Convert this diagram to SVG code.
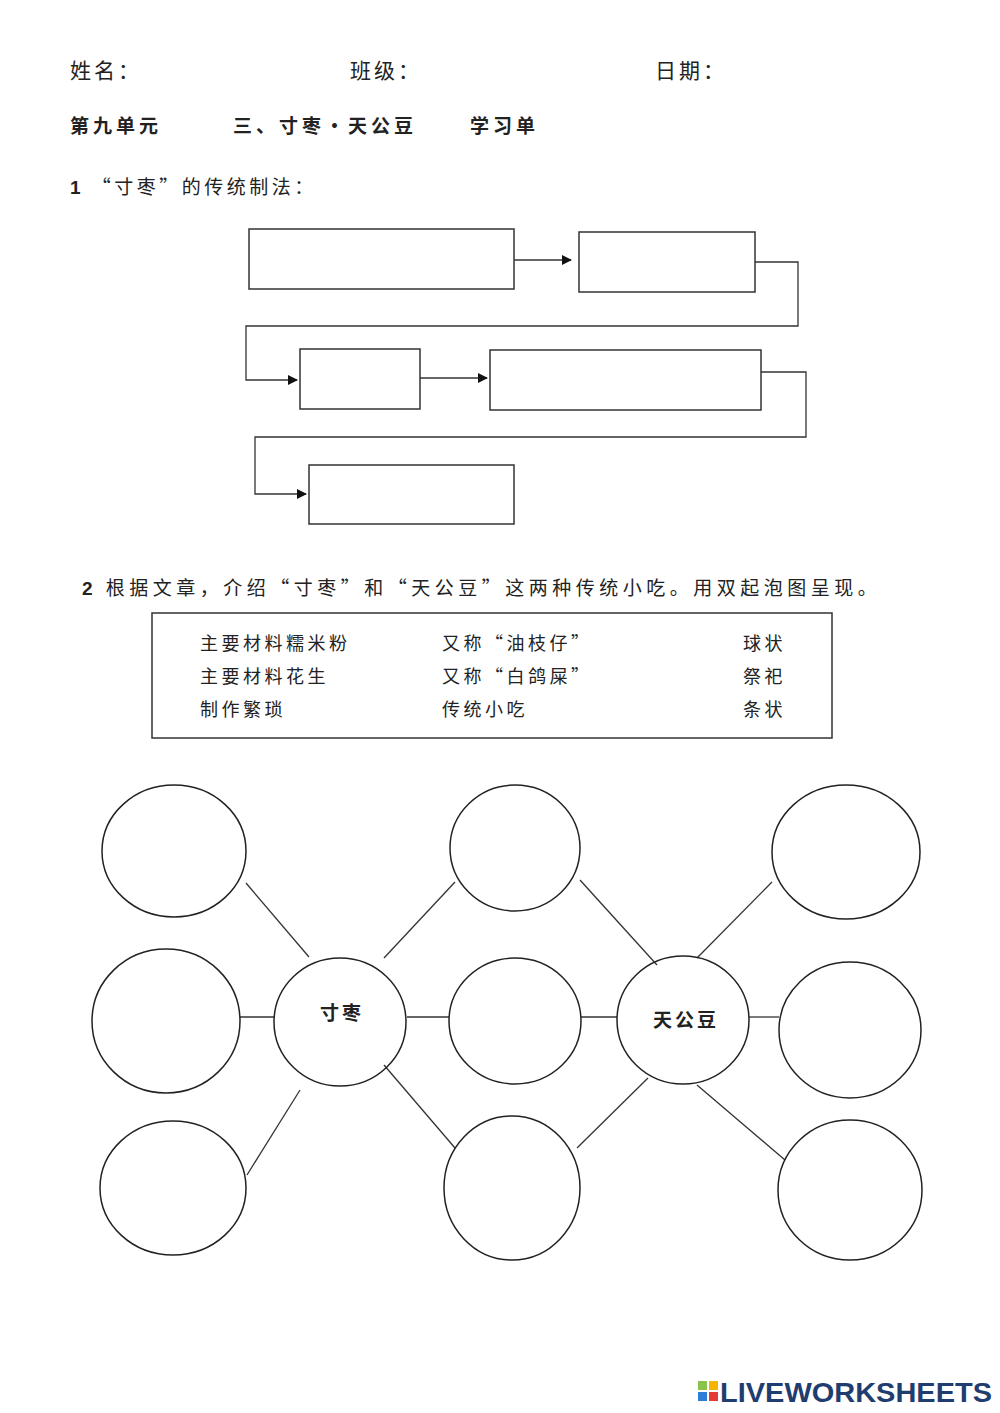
<svg xmlns="http://www.w3.org/2000/svg" width="1000" height="1413" viewBox="0 0 1000 1413">
<style>
.t{font-family:"Noto Sans CJK SC","Liberation Serif",serif;fill:#222}
.b{fill:none;stroke:#333;stroke-width:1.5}
.c{fill:none;stroke:#222;stroke-width:1.5}
.l{fill:none;stroke:#333;stroke-width:1.3}
</style>
<defs><marker id="a" markerWidth="10" markerHeight="10" refX="9" refY="5" orient="auto" markerUnits="userSpaceOnUse"><path d="M0,0 L10,5 L0,10 Z" fill="#111"/></marker></defs>
<rect width="1000" height="1413" fill="#fff"/>
<g class="t" font-size="21" letter-spacing="3">
<text x="70" y="78">姓名：</text><text x="350" y="78">班级：</text><text x="655" y="78">日期：</text>
</g>
<g class="t" font-size="19" font-weight="bold" letter-spacing="4">
<text x="70" y="133">第九单元</text><text x="233" y="133">三、寸枣·天公豆</text><text x="470" y="133">学习单</text>
</g>
<text class="t" x="70" y="194" font-size="19" letter-spacing="3.5"><tspan font-family="Liberation Sans,sans-serif" font-weight="bold">1</tspan>  “寸枣”的传统制法：</text>
<g id="box1"><rect class="b" x="249" y="229" width="265" height="60"/></g>
<g id="box2"><rect class="b" x="579" y="232" width="176" height="60"/></g>
<g id="box3"><rect class="b" x="300" y="349" width="120" height="60"/></g>
<g id="box4"><rect class="b" x="490" y="350" width="271" height="60"/></g>
<g id="box5"><rect class="b" x="309" y="465" width="205" height="59"/></g>
<g id="flow" class="l" stroke-width="1.6">
<path d="M514,260 H571" marker-end="url(#a)"/>
<path d="M755,262 H798 V326 H246 V380 H297" marker-end="url(#a)"/>
<path d="M420,378 H487" marker-end="url(#a)"/>
<path d="M761,372 H806 V437 H255 V494 H306" marker-end="url(#a)"/>
</g>
<text class="t" x="82" y="595" font-size="19" letter-spacing="4.5"><tspan font-family="Liberation Sans,sans-serif" font-weight="bold">2</tspan> 根据文章，介绍“寸枣”和“天公豆”这两种传统小吃。用双起泡图呈现。</text>
<g id="wordbox">
<rect class="b" x="152" y="613" width="680" height="125"/>
<g class="t" font-size="18" letter-spacing="3.5">
<text x="200" y="650">主要材料糯米粉</text><text x="442" y="650">又称“油枝仔”</text><text x="743" y="650">球状</text>
<text x="200" y="683">主要材料花生</text><text x="442" y="683">又称“白鸽屎”</text><text x="743" y="683">祭祀</text>
<text x="200" y="716">制作繁琐</text><text x="442" y="716">传统小吃</text><text x="743" y="716">条状</text>
</g>
</g>
<g id="connectors" class="l">
<path d="M246,883 L309,957"/><path d="M240,1017 H275"/><path d="M247,1175 L300,1090"/>
<path d="M384,958 L455,882"/><path d="M407,1017 H449"/><path d="M384,1065 L455,1148"/>
<path d="M580,880 L657,965"/><path d="M581,1017 H617"/><path d="M577,1148 L648,1078"/>
<path d="M697,958 L772,882"/><path d="M749,1017 H779"/><path d="M697,1085 L785,1160"/>
</g>
<g id="l1"><ellipse class="c" cx="174" cy="851" rx="72" ry="66"/></g>
<g id="l2"><ellipse class="c" cx="166" cy="1021" rx="74" ry="72"/></g>
<g id="l3"><ellipse class="c" cx="173" cy="1188" rx="73" ry="67"/></g>
<g id="cunzao"><ellipse class="c" cx="340" cy="1022" rx="66" ry="64"/><text class="t" x="342" y="1020" font-size="19" font-weight="bold" text-anchor="middle" letter-spacing="3">寸枣</text></g>
<g id="m1"><ellipse class="c" cx="515" cy="848" rx="65" ry="63"/></g>
<g id="m2"><ellipse class="c" cx="515" cy="1021" rx="66" ry="63"/></g>
<g id="m3"><ellipse class="c" cx="512" cy="1188" rx="68" ry="72"/></g>
<g id="tiangongdou"><ellipse class="c" cx="683" cy="1020" rx="66" ry="64"/><text class="t" x="686" y="1027" font-size="19" font-weight="bold" text-anchor="middle" letter-spacing="3">天公豆</text></g>
<g id="r1"><ellipse class="c" cx="846" cy="852" rx="74" ry="67"/></g>
<g id="r2"><ellipse class="c" cx="850" cy="1030" rx="71" ry="68"/></g>
<g id="r3"><ellipse class="c" cx="850" cy="1190" rx="72" ry="70"/></g>
<g id="logo">
<rect x="698" y="1381" width="9" height="9" fill="#8bc34a"/><rect x="709" y="1381" width="9" height="9" fill="#f4b400"/>
<rect x="698" y="1392" width="9" height="9" fill="#2e7dd7"/><rect x="709" y="1392" width="9" height="9" fill="#e53935"/>
<text x="720" y="1402" font-family="Liberation Sans,sans-serif" font-weight="bold" font-size="28" fill="#1f3d6e" textLength="272" lengthAdjust="spacingAndGlyphs">LIVEWORKSHEETS</text>
</g>
</svg>
